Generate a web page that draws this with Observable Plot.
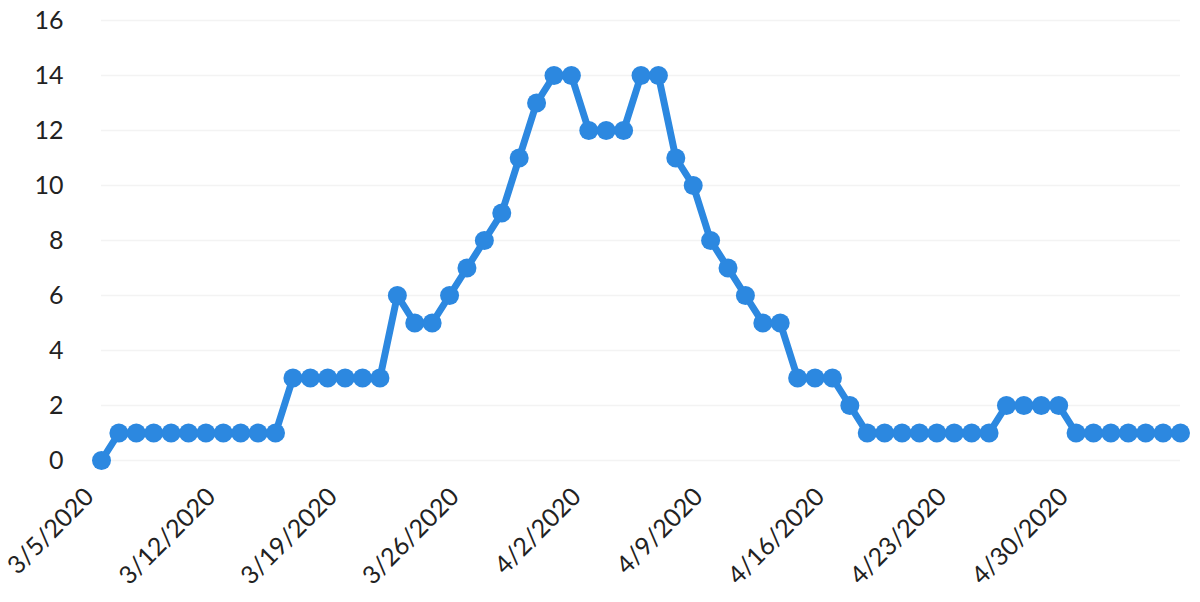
<!DOCTYPE html>
<html>
<head>
<meta charset="utf-8">
<script src="https://cdn.jsdelivr.net/npm/d3@7"></script>
<script src="https://cdn.jsdelivr.net/npm/@observablehq/plot@0.6"></script>
<style>
  html, body { margin: 0; padding: 0; background: #fff; }
  #chart svg { display: block; }
</style>
</head>
<body>
<div id="chart"></div>
<script>
const startDate = "2020-03-05";
const values = [0, 1,1,1,1,1,1,1,1,1,1, 3,3,3,3,3,3,
  6,5,5,6,7,8,9,11,13,14,14,12,12,12,14,14,11,10,8,7,6,5,5,3,3,3,2,
  1,1,1,1,1,1,1,1, 2,2,2,2, 1,1,1,1,1,1,1];
const tickDates = ["2020-03-05","2020-03-12","2020-03-19","2020-03-26","2020-04-02",
  "2020-04-09","2020-04-16","2020-04-23","2020-04-30"];
const yTicks = [0,2,4,6,8,10,12,14,16];

const start = new Date(startDate);
const data = values.map((v, i) => ({date: d3.utcDay.offset(start, i), value: v}));
const fmt = d3.utcFormat("%-m/%-d/%Y");

const chart = Plot.plot({
  width: 1200,
  height: 602,
  marginLeft: 101,
  marginRight: 20,
  marginTop: 20,
  marginBottom: 142,
  style: {fontFamily: "Lato, sans-serif", fontSize: "25px", color: "#222", background: "#fff"},
  x: {type: "utc", domain: [data[0].date, data[data.length - 1].date]},
  y: {domain: [0, 16]},
  marks: [
    Plot.gridY(yTicks, {stroke: "#f3f3f3", strokeOpacity: 1, strokeWidth: 1.5}),
    Plot.axisY(yTicks, {tickSize: 0, tickPadding: 38, fontSize: 25, fill: "#222", label: null}),
    Plot.axisX(tickDates.map(d => new Date(d)), {tickSize: 0, tickPadding: 30, dx: -12, dy: 2, tickRotate: -45,
      tickFormat: fmt, fontSize: 25, fill: "#222", label: null}),
    Plot.line(data, {x: "date", y: "value", stroke: "#2c88e0", strokeWidth: 7, strokeLinejoin: "round"}),
    Plot.dot(data, {x: "date", y: "value", r: 9.5, fill: "#2c88e0", stroke: "none"})
  ]
});
document.getElementById("chart").append(chart);
</script>
</body>
</html>
